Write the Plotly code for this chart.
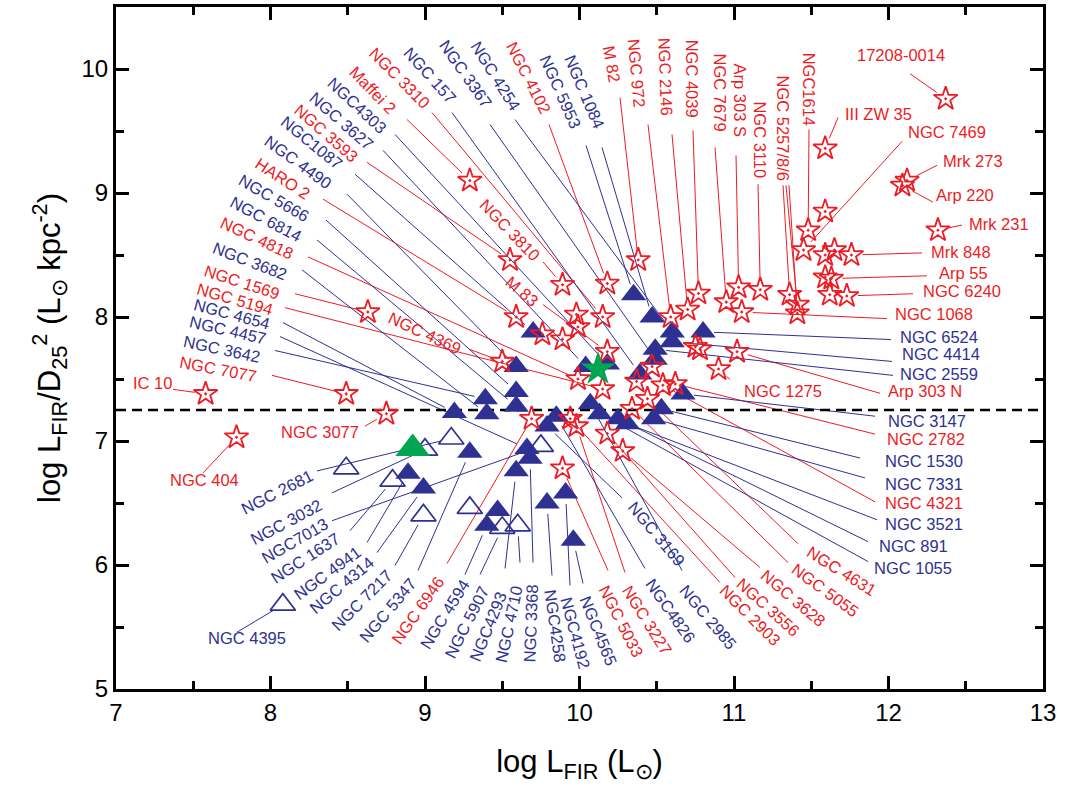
import math
import plotly.graph_objects as go

# ---------------- data: log L_FIR (x) and log L_FIR/D25^2 (y) ----------------
# red open stars
star_names = ["17208-0014", "III ZW 35", "Mrk 273", "Arp 220", "Mrk 231", "NGC1614", "s1",
              "NGC 7469", "s2", "s3", "Mrk 848", "s4", "Arp 55", "s5", "NGC 6240",
              "NGC 5257", "NGC 5258", "NGC 5256", "NGC 3110", "Arp 303 S", "NGC 7679",
              "NGC 1068", "NGC 4039", "NGC 2146", "NGC 972", "M 82", "Maffei 2",
              "NGC 3593", "NGC 3810", "HARO 2", "s6", "s7", "NGC 4369", "s8", "s9",
              "NGC 3310", "NGC 4102", "M 83", "NGC 4818", "NGC 5194", "NGC 6946",
              "NGC 2903", "NGC 3227", "NGC 3556", "NGC 3628", "NGC 5033", "s10", "s11",
              "NGC 4321", "NGC 4631", "NGC 2782", "NGC 5055", "s12", "s13",
              "Arp 303 N", "NGC 1275", "IC 10", "NGC 7077", "NGC 3077", "NGC 404", "NGC 1569"]
star_lfir = [12.37, 11.59, 12.12, 12.09, 12.32, 11.48, 11.59,
             11.45, 11.59, 11.65, 11.76, 11.59, 11.63, 11.62, 11.73,
             11.36, 11.41, 11.41, 11.17, 11.03, 10.95,
             11.05, 10.77, 10.70, 10.59, 10.38, 9.29,
             9.55, 9.89, 9.59, 9.76, 9.89, 9.50, 9.98, 9.99,
             10.15, 10.18, 10.18, 9.99, 10.15, 9.69,
             9.94, 9.98, 10.18, 10.28, 9.89, 10.47, 10.37,
             10.54, 10.44, 10.62, 10.34, 10.75, 10.78,
             11.02, 10.90, 7.58, 8.49, 8.75, 7.78, 8.63]
star_ratio = [9.76, 9.36, 9.10, 9.06, 8.70, 8.70, 8.85,
              8.54, 8.50, 8.54, 8.50, 8.32, 8.31, 8.18, 8.17,
              8.18, 8.10, 8.03, 8.22, 8.24, 8.12,
              8.04, 8.19, 8.06, 8.00, 8.46, 9.10,
              8.46, 8.26, 8.00, 7.86, 7.82, 7.64, 8.02, 7.92,
              8.00, 8.27, 7.72, 7.50, 7.42, 7.18,
              7.18, 7.12, 7.06, 6.92, 6.78, 7.60, 7.48,
              7.45, 7.34, 7.46, 7.26, 7.76, 7.74,
              7.72, 7.58, 7.38, 7.38, 7.22, 7.03, 8.04]

# navy filled triangles
tri_names = ["NGC 5953", "NGC 1084", "NGC 4254", "NGC 4414", "NGC 2559", "NGC 3367", "NGC 157",
             "NGC1087", "NGC 4490", "NGC 3627", "NGC 3642", "NGC 5666", "NGC 6814", "NGC 4654",
             "NGC 3682", "NGC4826", "NGC 3169", "NGC 2985", "NGC 1055", "NGC 891", "NGC 3521",
             "NGC 1530", "NGC 7331", "NGC 3147", "NGC 6524", "NGC 5347", "NGC 4457", "NGC 3368",
             "NGC4293", "NGC4258", "NGC4192", "NGC4565", "t1", "NGC 4594", "NGC 4941",
             "NGC 4314", "NGC4303"]
tri_lfir = [10.35, 10.47, 10.60, 10.60, 10.49, 10.49, 10.39,
            9.70, 9.59, 10.04, 9.39, 9.59, 9.59, 9.19,
            9.40, 9.85, 9.79, 10.07, 10.13, 10.25, 10.31,
            10.53, 10.48, 10.67, 10.80, 9.29, 9.66, 9.68,
            9.59, 9.79, 9.91, 9.96, 9.47, 9.40, 8.89,
            8.99, 10.18]
tri_ratio = [8.18, 8.00, 7.88, 7.80, 7.74, 7.66, 7.54,
             7.88, 7.60, 7.60, 7.34, 7.40, 7.28, 7.23,
             7.22, 7.20, 7.12, 7.30, 7.22, 7.18, 7.14,
             7.26, 7.18, 7.38, 7.88, 6.91, 6.94, 6.86,
             6.76, 6.50, 6.58, 6.20, 6.44, 6.32, 6.74,
             6.62, 7.62]

# navy open triangles
open_names = ["NGC 4395", "o1", "NGC 1637", "NGC 7217", "NGC 3032", "NGC 2681", "o2",
              "NGC 5907", "NGC 4710", "NGC7013"]
open_lfir = [8.08, 8.49, 8.79, 8.99, 9.00, 9.17, 9.29, 9.50, 9.60, 9.75]
open_ratio = [5.68, 6.78, 6.68, 6.40, 6.93, 7.02, 6.46, 6.30, 6.32, 6.96]

# green symbols
green_tri_lfir, green_tri_ratio = [8.92], [6.94]
green_star_lfir, green_star_ratio = [10.12], [7.58]

threshold = 7.25

# ---------------- label layout (canvas pixels): text, centre, angle, leader starts ----------------
labels = [
    ("17208-0014", 901, 52, 0, [("17208-0014", 910, 71)]),
    ("III ZW 35", 878, 111, 0, [("III ZW 35", 838, 115)]),
    ("NGC 7469", 947, 130, 0, [("NGC 7469", 902, 139)]),
    ("Mrk 273", 973, 159, 0, [("Mrk 273", 937, 163)]),
    ("Arp 220", 965, 193, 0, [("Arp 220", 933, 200)]),
    ("Mrk 231", 999, 222, 0, [("Mrk 231", 962, 223)]),
    ("Mrk 848", 961, 250, 0, [("Mrk 848", 922, 251)]),
    ("Arp 55", 963, 271, 0, [("Arp 55", 927, 274)]),
    ("NGC 6240", 962, 289, 0, [("NGC 6240", 913, 292)]),
    ("NGC 1068", 934, 312, 0, [("NGC 1068", 887, 317)]),
    ("NGC 6524", 939, 335, 0, [("NGC 6524", 891, 338)]),
    ("NGC 4414", 941, 353, 0, [("NGC 4414", 892, 360)]),
    ("NGC 2559", 939, 373, 0, [("NGC 2559", 893, 374)]),
    ("Arp 303 N", 925, 390, 0, [("Arp 303 N", 880, 392)]),
    ("NGC 1275", 783, 390, 0, [("NGC 1275", 730, 378)]),
    ("NGC 3147", 927, 420, 0, [("NGC 3147", 875, 415)]),
    ("NGC 2782", 926, 438, 0, [("NGC 2782", 875, 433)]),
    ("NGC 1530", 924, 460, 0, [("NGC 1530", 860, 457)]),
    ("NGC 7331", 924, 483, 0, [("NGC 7331", 865, 477)]),
    ("NGC 4321", 924, 502, 0, [("NGC 4321", 875, 501)]),
    ("NGC 3521", 924, 523, 0, [("NGC 3521", 877, 519)]),
    ("NGC 891", 913, 545, 0, [("NGC 891", 868, 541)]),
    ("NGC 1055", 913, 567, 0, [("NGC 1055", 868, 561)]),
    ("NGC 4631", 842, 570, 32, [("NGC 4631", 798, 543)]),
    ("NGC 5055", 825, 590, 36, [("NGC 5055", 788, 562)]),
    ("NGC 3628", 793, 598, 40, [("NGC 3628", 760, 567)]),
    ("NGC 3556", 768, 607, 42, [("NGC 3556", 735, 577)]),
    ("NGC 2903", 750, 615, 45, [("NGC 2903", 720, 582)]),
    ("NGC 2985", 708, 617, 50, [("NGC 2985", 682, 570)]),
    ("NGC4826", 670, 610, 55, [("NGC4826", 645, 568)]),
    ("NGC 3227", 647, 620, 58, [("NGC 3227", 625, 572)]),
    ("NGC 5033", 621, 621, 63, [("NGC 5033", 608, 570)]),
    ("NGC4565", 598, 630, 68, [("NGC4565", 583, 583)]),
    ("NGC4192", 575, 632, 75, [("NGC4192", 570, 585)]),
    ("NGC4258", 555, 625, 82, [("NGC4258", 552, 575)]),
    ("NGC 3368", 531, 623, -88, [("NGC 3368", 533, 562)]),
    ("NGC 4710", 509, 624, -78, [("NGC 4710", 520, 562)]),
    ("NGC4293", 488, 627, -68, [("NGC4293", 505, 568)]),
    ("NGC 5907", 467, 622, -63, [("NGC 5907", 480, 574)]),
    ("NGC 4594", 445, 614, -58, [("NGC 4594", 465, 574)]),
    ("NGC 6946", 418, 610, -55, [("NGC 6946", 447, 563)]),
    ("NGC 5347", 388, 610, -50, [("NGC 5347", 418, 570)]),
    ("NGC 7217", 362, 600, -45, [("NGC 7217", 395, 565)]),
    ("NGC 4314", 342, 585, -40, [("NGC 4314", 377, 552)]),
    ("NGC 4941", 327, 572, -36, [("NGC 4941", 367, 542)]),
    ("NGC 1637", 305, 557, -33, [("NGC 1637", 350, 530)]),
    ("NGC7013", 294, 540, -30, [("NGC7013", 332, 520)]),
    ("NGC 3032", 286, 521, -28, [("NGC 3032", 332, 492)]),
    ("NGC 2681", 277, 491, -27, [("NGC 2681", 317, 470)]),
    ("NGC 4395", 247, 638, 0, [("NGC 4395", 237, 632)]),
    ("NGC 3169", 657, 533, 50, [("NGC 3169", 622, 497)]),
    ("NGC 404", 204, 479, 0, [("NGC 404", 203, 472)]),
    ("NGC 3077", 320, 431, 0, [("NGC 3077", 365, 425)]),
    ("IC 10", 152, 382, 0, [("IC 10", 173, 388)]),
    ("NGC 7077", 218, 368, 11, [("NGC 7077", 272, 374)]),
    ("NGC 3642", 222, 347, 12, [("NGC 3642", 275, 349)]),
    ("NGC 4457", 228, 328, 13, [("NGC 4457", 280, 335)]),
    ("NGC 4654", 232, 312, 15, [("NGC 4654", 283, 321)]),
    ("NGC 5194", 235, 297, 16, [("NGC 5194", 285, 306)]),
    ("NGC 1569", 242, 280, 18, [("NGC 1569", 295, 292)]),
    ("NGC 3682", 250, 259, 21, [("NGC 3682", 302, 268)]),
    ("NGC 4818", 257, 236, 25, [("NGC 4818", 308, 255)]),
    ("NGC 6814", 266, 217, 28, [("NGC 6814", 317, 238)]),
    ("NGC 5666", 274, 196, 30, [("NGC 5666", 326, 218)]),
    ("HARO 2", 282, 176, 33, [("HARO 2", 323, 197)]),
    ("NGC 4490", 298, 160, 36, [("NGC 4490", 347, 192)]),
    ("NGC1087", 311, 140, 39, [("NGC1087", 355, 172)]),
    ("NGC 3593", 326, 131, 41, [("NGC 3593", 367, 160)]),
    ("NGC 3627", 342, 118, 41, [("NGC 3627", 383, 148)]),
    ("NGC4303", 357, 102, 43, [("NGC4303", 395, 132)]),
    ("Maffei 2", 373, 87, 46, [("Maffei 2", 407, 117)]),
    ("NGC 3310", 400, 75, 45, [("NGC 3310", 432, 110)]),
    ("NGC 157", 430, 72, 48, [("NGC 157", 452, 110)]),
    ("NGC 3367", 466, 71, 55, [("NGC 3367", 490, 122)]),
    ("NGC 4254", 496, 73, 58, [("NGC 4254", 515, 117)]),
    ("NGC 4102", 529, 75, 63, [("NGC 4102", 549, 122)]),
    ("NGC 5953", 561, 89, 66, [("NGC 5953", 586, 143)]),
    ("NGC 1084", 585, 89, 67, [("NGC 1084", 602, 145)]),
    ("M 82", 612, 61, 80, [("M 82", 620, 95)]),
    ("NGC 972", 637, 70, 85, [("NGC 972", 648, 122)]),
    ("NGC 2146", 666, 74, 88, [("NGC 2146", 672, 132)]),
    ("NGC 4039", 692, 76, 90, [("NGC 4039", 693, 128)]),
    ("NGC 7679", 720, 90, 90, [("NGC 7679", 715, 145)]),
    ("Arp 303 S", 740, 97, 90, [("Arp 303 S", 736, 153)]),
    ("NGC 3110", 760, 137, 90, [("NGC 3110", 758, 182)]),
    ("NGC 5257/8/6", 783, 125, 90, [("NGC 5257", 783, 183), ("NGC 5258", 786, 183),
                                     ("NGC 5256", 789, 183)]),
    ("NGC1614", 809, 86, 90, [("NGC1614", 809, 127)]),
    ("NGC 3810", 510, 228, 46, [("NGC 3810", 543, 260)]),
    ("M 83", 522, 289, 40, [("M 83", 543, 303)]),
    ("NGC 4369", 425, 331, 25, [("NGC 4369", 470, 348)]),
]

RED = "#ED1C24"
BLUE = "#2E3192"
GREEN = "#00A651"
FONT = "Arial, Liberation Sans, sans-serif"

# plot-area geometry (canvas pixels) and axis ranges
W, H = 1065, 795
L, R, T, B = 116, 1043, 4, 689
X0, X1, Y0, Y1 = 7, 13, 5, 10.5


def px2x(px):
    return X0 + (px - L) / (R - L) * (X1 - X0)


def py2y(py):
    return Y0 + (B - py) / (B - T) * (Y1 - Y0)


def x2px(x):
    return L + (x - X0) / (X1 - X0) * (R - L)


def y2py(y):
    return B - (y - Y0) / (Y1 - Y0) * (B - T)


pos = {}
for n, x, y in zip(star_names, star_lfir, star_ratio):
    pos[n] = (x, y, "star")
for n, x, y in zip(tri_names, tri_lfir, tri_ratio):
    pos[n] = (x, y, "tri")
for n, x, y in zip(open_names, open_lfir, open_ratio):
    pos[n] = (x, y, "open")

GAP = 11
line_xy = {RED: ([], []), BLUE: ([], [])}
annotations = []
for text, cx, cy, ang, legs in labels:
    kind = pos[legs[0][0]][2]
    col = RED if kind == "star" else BLUE
    for tgt, sx, sy in legs:
        mx, my, _ = pos[tgt]
        ex, ey = x2px(mx), y2py(my)
        d = math.hypot(ex - sx, ey - sy)
        if d > GAP:
            ex = ex - (ex - sx) / d * GAP
            ey = ey - (ey - sy) / d * GAP
        xs, ys = line_xy[col]
        xs += [px2x(sx), px2x(ex), None]
        ys += [py2y(sy), py2y(ey), None]
    annotations.append(dict(
        x=px2x(cx), y=py2y(cy), xref="x", yref="y", text=text, textangle=ang,
        showarrow=False, xanchor="center", yanchor="middle",
        font=dict(family=FONT, size=16.5, color=col)))

fig = go.Figure()
for col in (RED, BLUE):
    xs, ys = line_xy[col]
    fig.add_trace(go.Scatter(x=xs, y=ys, mode="lines", line=dict(color=col, width=1),
                             hoverinfo="skip", showlegend=False))

fig.add_trace(go.Scatter(x=[X0, X1], y=[threshold, threshold], mode="lines",
                         line=dict(color="black", width=2.5, dash="10px,6px"),
                         hoverinfo="skip", showlegend=False))

fig.add_trace(go.Scatter(x=tri_lfir, y=tri_ratio, mode="markers", text=tri_names,
                         marker=dict(symbol="triangle-up", size=22, color=BLUE,
                                     line=dict(width=0)), showlegend=False))
fig.add_trace(go.Scatter(x=open_lfir, y=open_ratio, mode="markers", text=open_names,
                         marker=dict(symbol="triangle-up-open", size=22, color=BLUE,
                                     line=dict(width=1.7, color=BLUE)), showlegend=False))
fig.add_trace(go.Scatter(x=green_tri_lfir, y=green_tri_ratio, mode="markers",
                         marker=dict(symbol="triangle-up", size=30, color=GREEN,
                                     line=dict(width=0)), showlegend=False))
fig.add_trace(go.Scatter(x=star_lfir, y=star_ratio, mode="markers", text=star_names,
                         marker=dict(symbol="star-open-dot", size=18, color=RED,
                                     line=dict(width=1.8, color=RED)), showlegend=False))
fig.add_trace(go.Scatter(x=green_star_lfir, y=green_star_ratio, mode="markers",
                         marker=dict(symbol="star", size=26, color=GREEN,
                                     line=dict(width=0)), showlegend=False))

axis_common = dict(
    showgrid=False, zeroline=False, showline=True, linewidth=3, linecolor="black",
    mirror="allticks", ticks="inside", ticklen=13, tickwidth=3, tickcolor="black",
    tickfont=dict(family=FONT, size=24, color="black"),
)
fig.update_xaxes(range=[X0, X1], tickmode="array", tickvals=[7, 8, 9, 10, 11, 12, 13],
                 minor=dict(ticks="inside", ticklen=8, tickwidth=3, tickcolor="black",
                            tickvals=[7.5, 8.5, 9.5, 10.5, 11.5, 12.5]),
                 title=dict(text="log L<sub>FIR</sub> (L<sub>\u2299</sub>)",
                            font=dict(family=FONT, size=31, color="black"), standoff=26),
                 **axis_common)
fig.update_yaxes(range=[Y0, Y1], tickmode="array", tickvals=[5, 6, 7, 8, 9, 10],
                 minor=dict(ticks="inside", ticklen=8, tickwidth=3, tickcolor="black",
                            tickvals=[5.5, 6.5, 7.5, 8.5, 9.5, 10.5]),
                 title=dict(text="log L<sub>FIR</sub>/D<sub>25</sub><sup>2</sup> (L<sub>\u2299</sub> kpc<sup>-2</sup>)",
                            font=dict(family=FONT, size=31, color="black"), standoff=12),
                 **axis_common)

fig.update_layout(width=W, height=H, margin=dict(l=L, r=W - R, t=T, b=H - B),
                  paper_bgcolor="white", plot_bgcolor="white",
                  annotations=annotations, showlegend=False)

fig.write_html("out.html")
